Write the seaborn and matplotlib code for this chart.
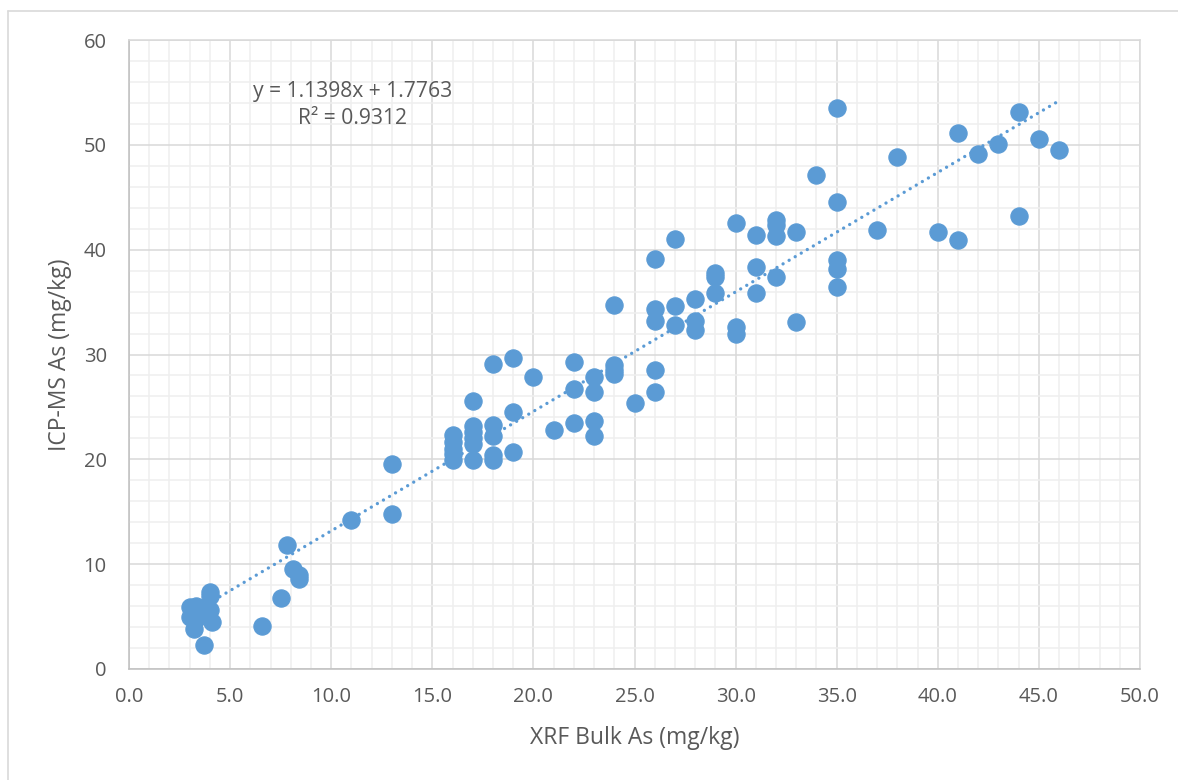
import numpy as np
import pandas as pd
import matplotlib
matplotlib.use("Agg")
import matplotlib.pyplot as plt
import seaborn as sns
from matplotlib.ticker import MultipleLocator, FormatStrFormatter
from matplotlib.lines import Line2D

# ---- data ----
xrf = [3.0, 3.3, 3.5, 4.0, 3.0, 3.3, 4.1, 3.2, 3.7, 4.0, 4.0,
       6.6, 7.5, 8.1, 8.4, 8.4, 7.8,
       11, 13, 13,
       16, 16, 16, 16, 16,
       17, 17, 17, 17, 17, 17,
       18, 18, 18, 18, 18,
       19, 19, 19,
       20, 21,
       22, 22, 22,
       23, 23, 23, 23,
       24, 24, 24, 24,
       25,
       26, 26, 26, 26, 26,
       27, 27, 27,
       28, 28, 28,
       29, 29, 29,
       30, 30, 30,
       31, 31, 31,
       32, 32, 32, 32,
       33, 33,
       34,
       35, 35, 35, 35, 35,
       37, 38, 40,
       41, 41,
       42, 43,
       44, 44,
       45, 46]
icpms = [5.9, 6.0, 5.5, 5.6, 5.0, 4.8, 4.5, 3.8, 2.3, 7.3, 7.0,
         4.1, 6.8, 9.5, 9.0, 8.6, 11.8,
         14.2, 14.8, 19.6,
         22.3, 21.7, 21.0, 20.5, 19.9,
         25.6, 23.2, 22.6, 22.0, 21.5, 19.9,
         29.1, 23.3, 22.2, 20.4, 19.9,
         29.7, 24.5, 20.7,
         27.9, 22.8,
         29.3, 26.7, 23.5,
         27.9, 26.4, 23.7, 22.2,
         34.7, 29.0, 28.5, 28.1,
         25.4,
         39.1, 34.3, 33.2, 28.5, 26.4,
         41.0, 34.6, 32.8,
         35.3, 33.2, 32.3,
         37.8, 37.4, 35.9,
         42.5, 32.6, 32.0,
         41.4, 38.3, 35.9,
         42.8, 42.4, 41.3, 37.4,
         41.7, 33.1,
         47.1,
         53.5, 44.5, 39.0, 38.2, 36.4,
         41.9, 48.8, 41.7,
         51.1, 40.9,
         49.1, 50.1,
         53.1, 43.2,
         50.6, 49.5]

slope = 1.1398
intercept = 1.7763
r_squared = 0.9312

x_ticks = [0.0, 5.0, 10.0, 15.0, 20.0, 25.0, 30.0, 35.0, 40.0, 45.0, 50.0]
y_ticks = [0, 10, 20, 30, 40, 50, 60]

x_title = "XRF Bulk As (mg/kg)"
y_title = "ICP-MS As (mg/kg)"

df = pd.DataFrame({"XRF": xrf, "ICPMS": icpms})

# ---- style ----
sns.set_style("white")
plt.rcParams["font.family"] = ["Open Sans", "DejaVu Sans"]
text_color = "#595959"
blue = "#5B9BD5"

W, H = 1178, 780
fig = plt.figure(figsize=(W / 100, H / 100), dpi=100)
ax = fig.add_axes([129 / W, (H - 669) / H, (1140 - 129) / W, (669 - 40) / H])

# outer chart frame (top and left edges visible)
fig.add_artist(Line2D([8 / W, 1.0], [(H - 11) / H] * 2, color="#D9D9D9", lw=1.2))
fig.add_artist(Line2D([8 / W] * 2, [0, (H - 11) / H], color="#D9D9D9", lw=1.2))

# grid
ax.set_xlim(x_ticks[0], x_ticks[-1])
ax.set_ylim(y_ticks[0], y_ticks[-1])
ax.set_xticks(x_ticks)
ax.set_yticks(y_ticks)
ax.xaxis.set_minor_locator(MultipleLocator(1))
ax.yaxis.set_minor_locator(MultipleLocator(2))
ax.grid(which="minor", color="#EFEFEF", lw=1.1, zorder=0)
ax.grid(which="major", color="#D9D9D9", lw=1.1, zorder=0)
ax.set_axisbelow(True)
for sp in ax.spines.values():
    sp.set_color("#D9D9D9")
    sp.set_linewidth(1.1)
ax.spines["left"].set_color("#BFBFBF")
ax.spines["bottom"].set_color("#BFBFBF")

# scatter
sns.scatterplot(data=df, x="XRF", y="ICPMS", ax=ax, color=blue, s=155,
                edgecolor=blue, linewidth=0.8, zorder=3, legend=False)

# linear trendline
tx = np.array([min(xrf), max(xrf)])
tdf = pd.DataFrame({"x": tx, "y": slope * tx + intercept})
sns.lineplot(data=tdf, x="x", y="y", ax=ax, color=blue, lw=2.4,
             linestyle=(0, (0.01, 2.1)), dash_capstyle="round", zorder=4)

# equation text
ax.text(11.05, 55.1, f"y = {slope:.4f}x + {intercept:.4f}", ha="center", va="center",
        fontsize=15.2, color=text_color, zorder=5)
ax.text(11.05, 52.5, f"R² = {r_squared:.4f}", ha="center", va="center",
        fontsize=15.2, color=text_color, zorder=5)

# ticks and labels
ax.xaxis.set_major_formatter(FormatStrFormatter("%.1f"))
ax.yaxis.set_major_formatter(FormatStrFormatter("%d"))
ax.tick_params(axis="both", which="both", length=0, labelsize=14.5, labelcolor=text_color)
ax.tick_params(axis="x", pad=13)
ax.tick_params(axis="y", pad=16)

ax.set_xlabel(x_title, fontsize=16.5, color=text_color)
ax.set_ylabel(y_title, fontsize=16.5, color=text_color)
ax.xaxis.set_label_coords(0.5, -(726 - 669) / 629)
ax.yaxis.set_label_coords(-(129 - 72) / 1011, 0.5)

fig.savefig("out.png", dpi=100)
